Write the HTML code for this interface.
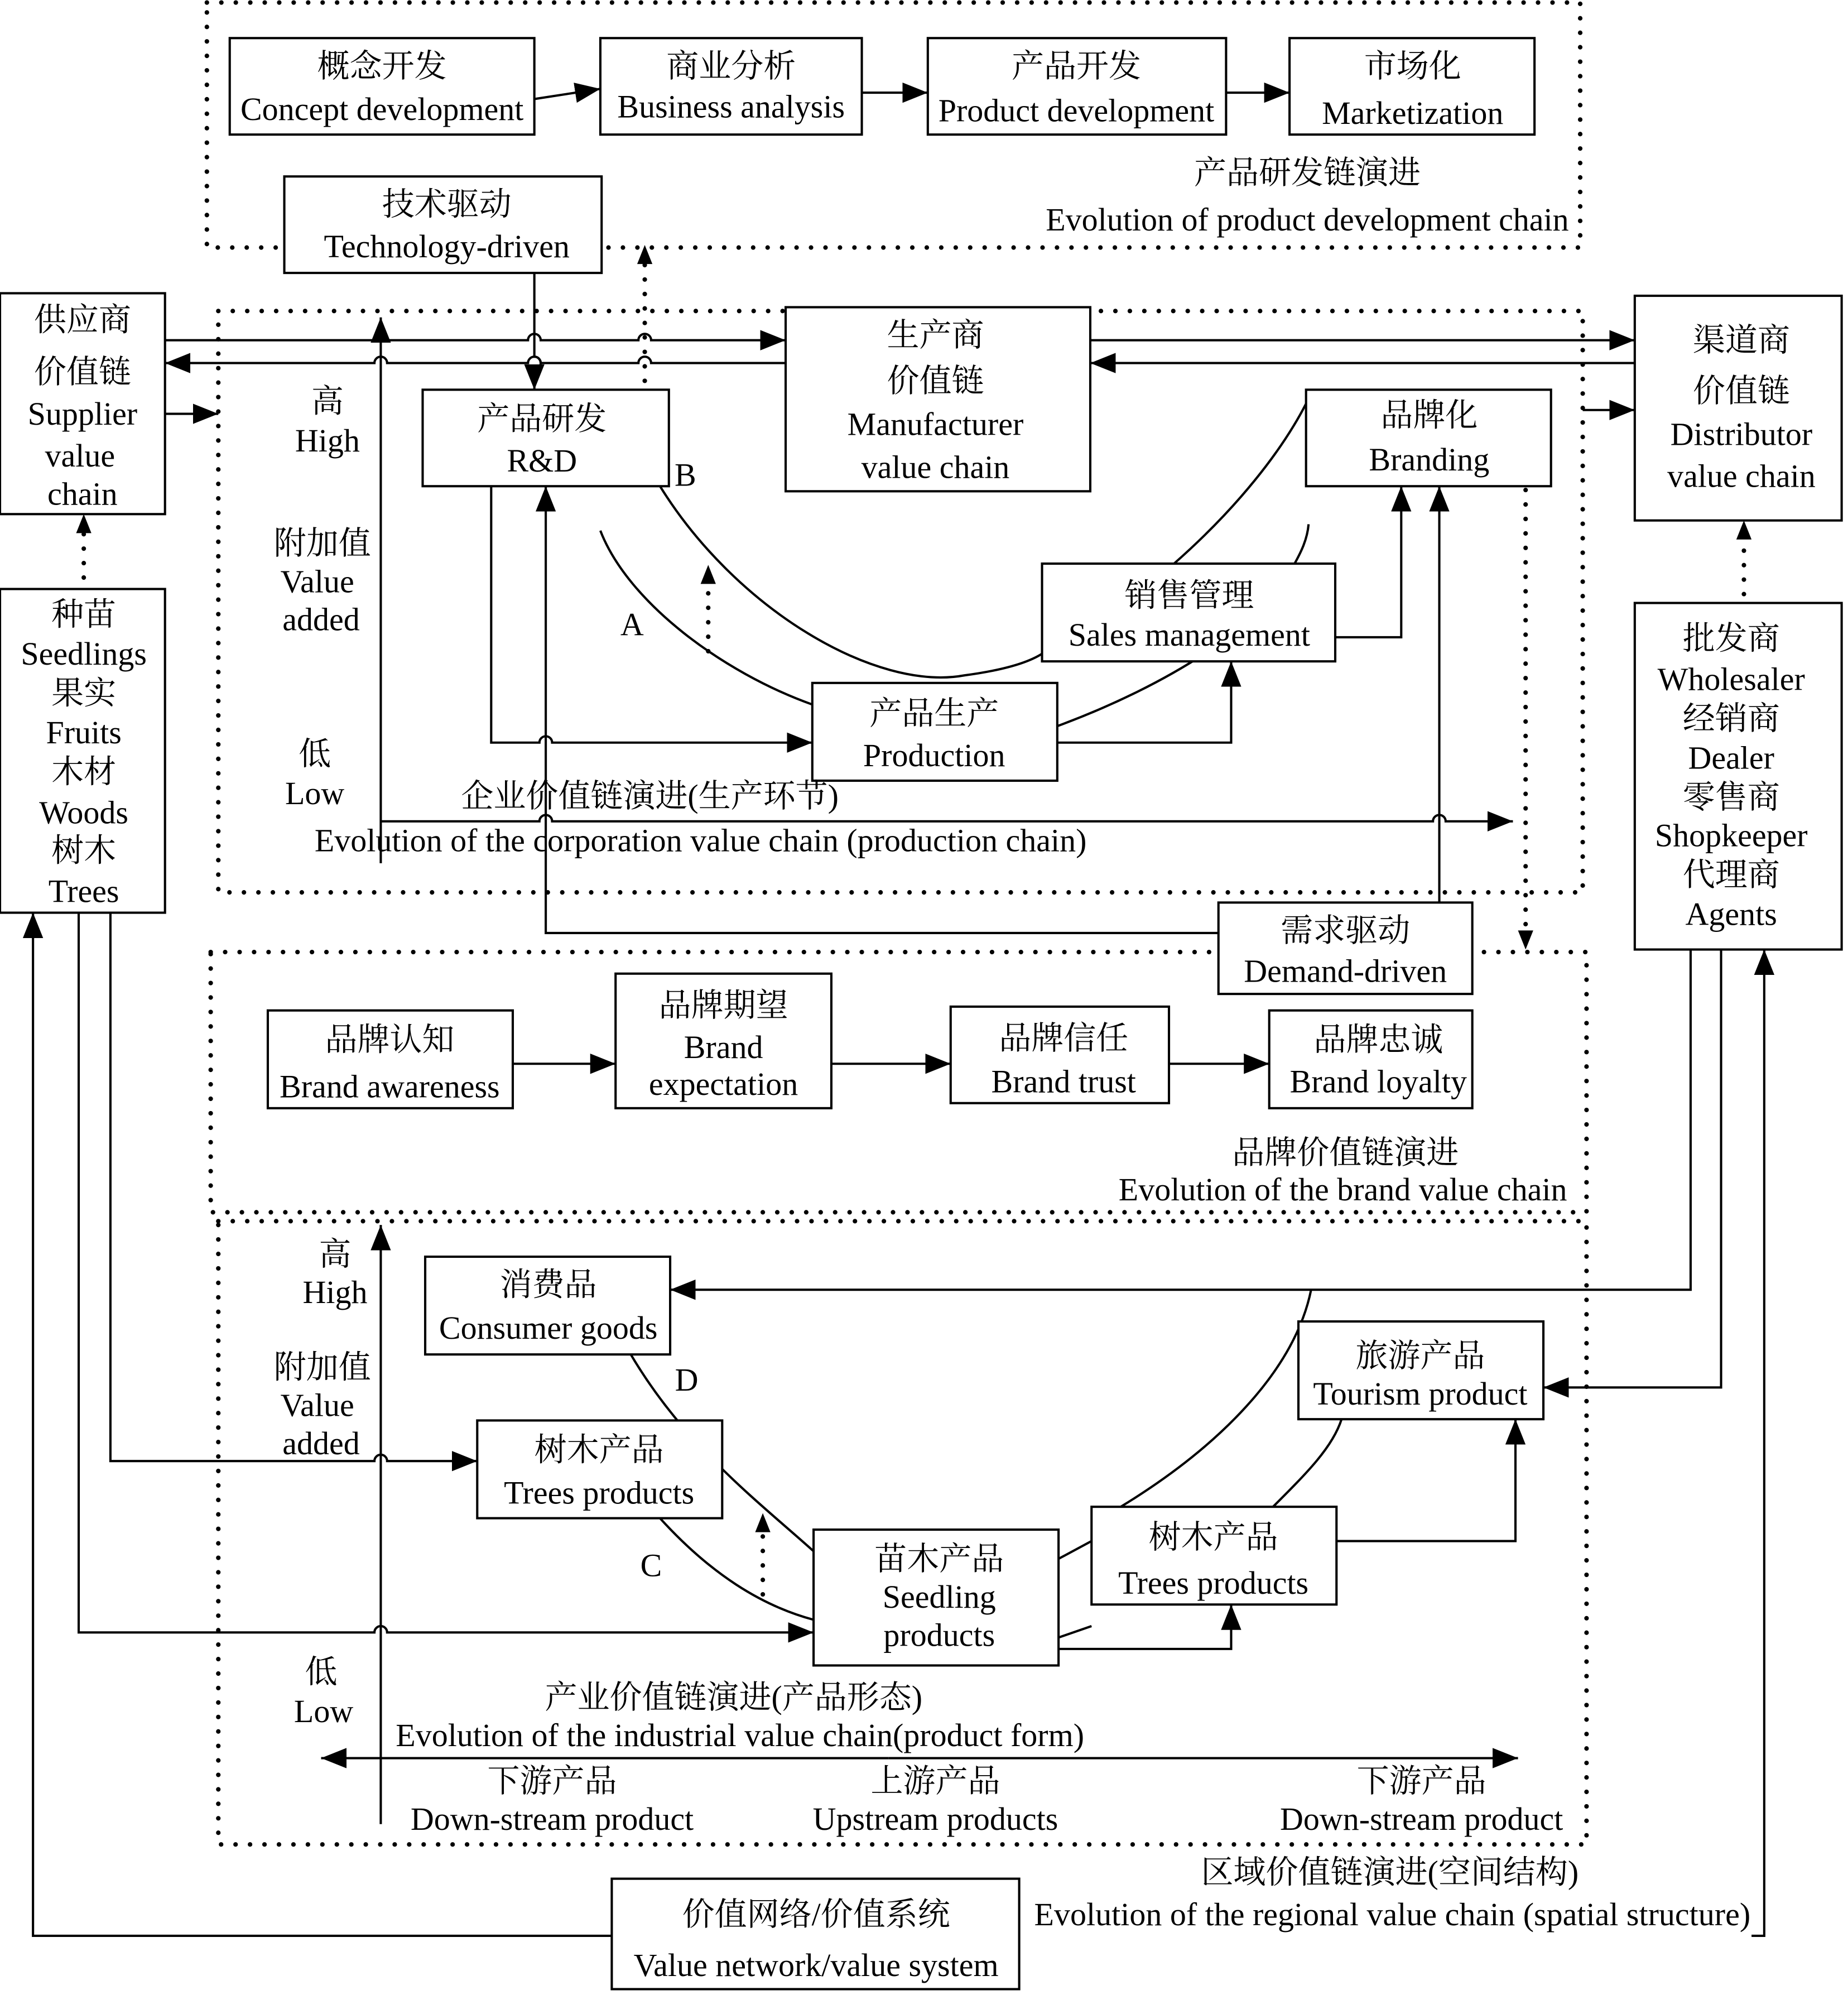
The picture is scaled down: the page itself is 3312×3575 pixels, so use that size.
<!DOCTYPE html>
<html><head><meta charset="utf-8"><style>html,body{margin:0;padding:0;background:#fff}svg{display:block}</style></head><body>
<svg xmlns="http://www.w3.org/2000/svg" width="3312" height="3575" viewBox="0 0 1456 1571.6">
<defs>
<marker id="a" markerUnits="userSpaceOnUse" markerWidth="22" markerHeight="16" refX="20" refY="8" orient="auto"><path d="M0,0 L20,8 L0,16 Z" fill="#000"/></marker>
</defs>
<style>
text{font-family:"Liberation Serif","Noto Serif CJK SC","Noto Sans CJK SC",serif;font-size:25.5px;text-anchor:middle;dominant-baseline:central;fill:#000}
.b{fill:#fff;stroke:#000;stroke-width:1.8}
.l{fill:none;stroke:#000;stroke-width:1.8}
.d{fill:none;stroke:#000;stroke-width:3.6;stroke-linecap:round;stroke-dasharray:0 11.4}
</style>
<rect width="1456" height="1572" fill="#fff"/>
<rect class="d" x="163" y="2" width="1082" height="193"/>
<rect class="d" x="172" y="245" width="1075" height="458"/>
<rect class="d" x="166" y="750" width="1084" height="205"/>
<rect class="d" x="172" y="962" width="1078" height="491"/>
<rect class="b" x="181" y="30" width="240" height="76"/><text x="301" y="52">概念开发</text><text x="301" y="86">Concept development</text>
<rect class="b" x="473" y="30" width="206" height="76"/><text x="576" y="52">商业分析</text><text x="576" y="84">Business analysis</text>
<rect class="b" x="731" y="30" width="235" height="76"/><text x="848" y="52">产品开发</text><text x="848" y="87">Product development</text>
<rect class="b" x="1016" y="30" width="193" height="76"/><text x="1113" y="52">市场化</text><text x="1113" y="89">Marketization</text>
<path class="l" d="M421,78 L473,70" marker-end="url(#a)"/>
<path class="l" d="M679,73 L731,73" marker-end="url(#a)"/>
<path class="l" d="M966,73 L1016,73" marker-end="url(#a)"/>
<text x="1030" y="136">产品研发链演进</text><text x="1030" y="173">Evolution of product development chain</text>
<rect class="b" x="224" y="139" width="250" height="76"/><text x="352" y="161">技术驱动</text><text x="352" y="194">Technology-driven</text>
<rect class="b" x="0" y="231" width="130" height="174"/>
<text x="65" y="252">供应商</text><text x="65" y="293">价值链</text><text x="65" y="326">Supplier</text><text x="63" y="359">value</text><text x="65" y="389">chain</text>
<rect class="b" x="1288" y="233" width="163" height="177"/>
<text x="1372" y="268">渠道商</text><text x="1372" y="308">价值链</text><text x="1372" y="342">Distributor</text><text x="1372" y="375">value chain</text>
<rect class="b" x="619" y="242" width="240" height="145"/>
<text x="737" y="264">生产商</text><text x="737" y="300">价值链</text><text x="737" y="334">Manufacturer</text><text x="737" y="368">value chain</text>
<path class="l" d="M130,268 L295,268 A5,5 0 0 1 305,268 L416,268 A5,5 0 0 1 426,268 L503,268 A5,5 0 0 1 513,268 L619,268" marker-end="url(#a)"/>
<path class="l" d="M619,286 L513,286 A5,5 0 0 0 503,286 L426,286 A5,5 0 0 0 416,286 L305,286 A5,5 0 0 0 295,286 L130,286" marker-end="url(#a)"/>
<path class="l" d="M130,326 L172,326" marker-end="url(#a)"/>
<path class="l" d="M859,268 L1288,268" marker-end="url(#a)"/>
<path class="l" d="M1288,286 L859,286" marker-end="url(#a)"/>
<path class="l" d="M1247,323 L1288,323" marker-end="url(#a)"/>
<path class="l" d="M300,680 L300,250" marker-end="url(#a)"/>
<text x="258" y="316">高</text><text x="258" y="347">High</text><text x="254" y="428">附加值</text><text x="250" y="458">Value</text><text x="253" y="488">added</text><text x="248" y="594">低</text><text x="248" y="625">Low</text>
<path class="l" d="M520,383 C580,480 690,545 760,532 C790,528 810,522 821,515"/>
<path class="l" d="M925,444 C975,400 1010,355 1029,318"/>
<path class="l" d="M473,418 C495,475 570,530 640,555"/>
<path class="l" d="M833,572 C920,540 1000,490 1020,444"/>
<path class="l" d="M1020,444 C1025,435 1030,425 1031,413"/>
<rect class="b" x="333" y="307" width="194" height="76"/><text x="427" y="330">产品研发</text><text x="427" y="363">R&amp;D</text>
<rect class="b" x="1029" y="307" width="193" height="76"/><text x="1126" y="327">品牌化</text><text x="1126" y="362">Branding</text>
<rect class="b" x="821" y="444" width="231" height="77"/><text x="937" y="469">销售管理</text><text x="937" y="500">Sales management</text>
<rect class="b" x="640" y="538" width="193" height="77"/><text x="736" y="562">产品生产</text><text x="736" y="595">Production</text>
<path class="l" d="M421,215 L421,281 A5,5 0 0 1 421,291 L421,307" marker-end="url(#a)"/>
<path class="d" d="M508,300 L508,205"/><path d="M502,208 L508,193 L514,208 Z"/>
<path class="l" d="M387,383 L387,585 L425,585 A5,5 0 0 1 435,585 L640,585" marker-end="url(#a)"/>
<path class="l" d="M960,735 L430,735 L430,383" marker-end="url(#a)"/>
<path class="l" d="M1134,711 L1134,383" marker-end="url(#a)"/>
<path class="l" d="M1052,502 L1104,502 L1104,383" marker-end="url(#a)"/>
<path class="l" d="M833,585 L970,585 L970,521" marker-end="url(#a)"/>
<path class="d" d="M558,513 L558,458"/><path d="M552,460 L558,445 L564,460 Z"/>
<text x="498" y="492">A</text><text x="540" y="374">B</text>
<path class="l" d="M300,647 L425,647 A5,5 0 0 1 435,647 L1129,647 A5,5 0 0 1 1139,647 L1192,647" marker-end="url(#a)"/>
<text x="512" y="627">企业价值链演进(生产环节)</text><text x="552" y="662">Evolution of the corporation value chain (production chain)</text>
<rect class="b" x="960" y="711" width="200" height="72"/><text x="1060" y="733">需求驱动</text><text x="1060" y="765">Demand-driven</text>
<path class="d" d="M1202,386 L1202,735"/><path d="M1196,733 L1202,748 L1208,733 Z"/>
<rect class="b" x="211" y="796" width="193" height="77"/><text x="307" y="819">品牌认知</text><text x="307" y="856">Brand awareness</text>
<rect class="b" x="485" y="767" width="170" height="106"/><text x="570" y="792">品牌期望</text><text x="570" y="825">Brand</text><text x="570" y="854">expectation</text>
<rect class="b" x="749" y="793" width="172" height="76"/><text x="838" y="818">品牌信任</text><text x="838" y="852">Brand trust</text>
<rect class="b" x="1000" y="796" width="160" height="77"/><text x="1086" y="819">品牌忠诚</text><text x="1086" y="852">Brand loyalty</text>
<path class="l" d="M404,838 L485,838" marker-end="url(#a)"/>
<path class="l" d="M655,838 L749,838" marker-end="url(#a)"/>
<path class="l" d="M921,838 L1000,838" marker-end="url(#a)"/>
<text x="1060" y="908">品牌价值链演进</text><text x="1058" y="937">Evolution of the brand value chain</text>
<rect class="b" x="0" y="464" width="130" height="255"/>
<text x="66" y="484">种苗</text><text x="66" y="515">Seedlings</text><text x="66" y="546">果实</text><text x="66" y="577">Fruits</text><text x="66" y="608">木材</text><text x="66" y="640">Woods</text><text x="66" y="670">树木</text><text x="66" y="702">Trees</text>
<path class="d" d="M66,455 L66,420"/><path d="M60,420 L66,405 L72,420 Z"/>
<rect class="b" x="1288" y="475" width="163" height="273"/>
<text x="1364" y="503">批发商</text><text x="1364" y="535">Wholesaler</text><text x="1364" y="566">经销商</text><text x="1364" y="597">Dealer</text><text x="1364" y="628">零售商</text><text x="1364" y="658">Shopkeeper</text><text x="1364" y="689">代理商</text><text x="1364" y="720">Agents</text>
<path class="d" d="M1374,468 L1374,425"/><path d="M1368,425 L1374,410 L1380,425 Z"/>
<path class="l" d="M300,1437 L300,965" marker-end="url(#a)"/>
<text x="264" y="988">高</text><text x="264" y="1018">High</text><text x="254" y="1077">附加值</text><text x="250" y="1107">Value</text><text x="253" y="1137">added</text><text x="253" y="1317">低</text><text x="255" y="1348">Low</text>
<path class="l" d="M497,1067 C540,1140 600,1185 641,1222"/>
<path class="l" d="M520,1196 C560,1240 600,1265 641,1276"/>
<path class="l" d="M834,1228 L860,1214"/>
<path class="l" d="M883,1187 C960,1140 1020,1080 1033,1016"/>
<path class="l" d="M1003,1187 C1030,1160 1050,1140 1057,1118"/>
<path class="l" d="M834,1290 L860,1281"/>
<rect class="b" x="335" y="990" width="193" height="77"/><text x="432" y="1012">消费品</text><text x="432" y="1046">Consumer goods</text>
<rect class="b" x="376" y="1119" width="193" height="77"/><text x="472" y="1142">树木产品</text><text x="472" y="1176">Trees products</text>
<rect class="b" x="641" y="1205" width="193" height="107"/><text x="740" y="1228">苗木产品</text><text x="740" y="1258">Seedling</text><text x="740" y="1288">products</text>
<rect class="b" x="860" y="1187" width="193" height="77"/><text x="956" y="1211">树木产品</text><text x="956" y="1247">Trees products</text>
<rect class="b" x="1023" y="1041" width="193" height="77"/><text x="1119" y="1068">旅游产品</text><text x="1119" y="1098">Tourism product</text>
<path class="l" d="M87,719 L87,1151 L295,1151 A5,5 0 0 1 305,1151 L376,1151" marker-end="url(#a)"/>
<path class="l" d="M62,719 L62,1286 L295,1286 A5,5 0 0 1 305,1286 L641,1286" marker-end="url(#a)"/>
<path class="l" d="M1332,748 L1332,1016 L528,1016" marker-end="url(#a)"/>
<path class="l" d="M1356,748 L1356,1093 L1216,1093" marker-end="url(#a)"/>
<path class="l" d="M1053,1214 L1194,1214 L1194,1118" marker-end="url(#a)"/>
<path class="l" d="M834,1299 L970,1299 L970,1264" marker-end="url(#a)"/>
<path class="d" d="M601,1256 L601,1205"/><path d="M595,1207 L601,1192 L607,1207 Z"/>
<text x="541" y="1087">D</text><text x="513" y="1233">C</text>
<path class="l" d="M700,1385 L1196,1385" marker-end="url(#a)"/>
<path class="l" d="M700,1385 L253,1385" marker-end="url(#a)"/>
<text x="578" y="1337">产业价值链演进(产品形态)</text><text x="583" y="1367">Evolution of the industrial value chain(product form)</text>
<text x="435" y="1403">下游产品</text><text x="435" y="1433">Down-stream product</text>
<text x="737" y="1403">上游产品</text><text x="737" y="1433">Upstream products</text>
<text x="1120" y="1403">下游产品</text><text x="1120" y="1433">Down-stream product</text>
<text x="1095" y="1475">区域价值链演进(空间结构)</text><text x="1097" y="1508">Evolution of the regional value chain (spatial structure)</text>
<rect class="b" x="482" y="1480" width="321" height="87"/><text x="643" y="1508">价值网络/价值系统</text><text x="643" y="1548">Value network/value system</text>
<path class="l" d="M482,1525 L26,1525 L26,719" marker-end="url(#a)"/>
<path class="l" d="M1380,1525 L1390,1525 L1390,748" marker-end="url(#a)"/>
</svg>
</body></html>
